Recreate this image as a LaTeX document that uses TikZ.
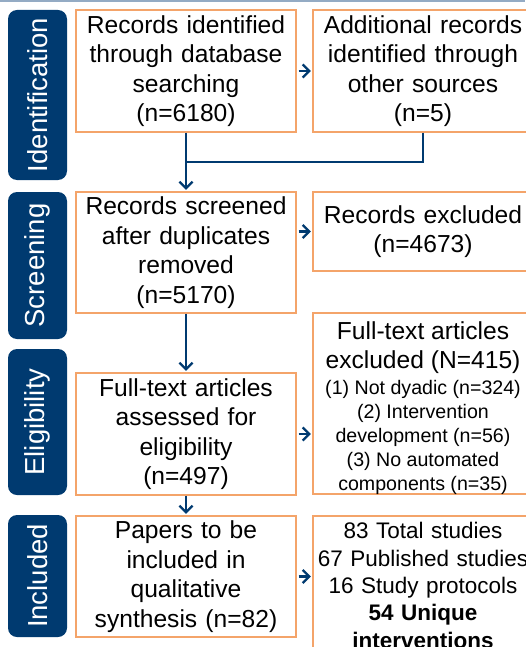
\documentclass[tikz,border=0pt]{standalone}
\usepackage{fontspec}
\setmainfont{Liberation Sans}
\usetikzlibrary{arrows.meta}
\definecolor{navy}{HTML}{003A70}
\definecolor{boxorange}{HTML}{F4A46A}
\definecolor{topline}{HTML}{94ABC4}
\begin{document}
\begin{tikzpicture}[x=1pt,y=-1pt,
  phase/.style={fill=navy, rounded corners=9pt, minimum height=59pt, text=white,
    rotate=90, font=\fontsize{27.5}{32}\selectfont, inner sep=0pt},
  box/.style={draw=boxorange, line width=1.3pt, fill=white, minimum width=220pt,
    inner sep=0pt, align=center, text width=216pt, font=\fontsize{24.6}{29.5}\selectfont},
  link/.style={draw=navy, line width=2.3pt},
  arr/.style={link, -{Straight Barb[length=6.5pt,width=13pt,line width=2.3pt]}}
]
\useasboundingbox (0,0) rectangle (525,647);
\draw[topline, line width=2pt] (0,1) -- (525,1);

% phase labels
\node[phase, minimum width=170pt] (pid) at (37.5,95) {Identification};
\node[phase, minimum width=147pt] (psc) at (37.5,265.5) {Screening};
\node[phase, minimum width=146pt] (pel) at (37.5,422) {Eligibility};
\node[phase, minimum width=122pt] (pin) at (37.5,576) {Included};

% boxes
\node[box, minimum height=122pt] (rec) at (186,71) {Records identified\\through database\\searching\\(n=6180)};
\node[box, minimum height=122pt] (add) at (423,71) {Additional records\\identified through\\other sources\\(n=5)};
\node[box, minimum height=121pt] (scr) at (186,252.5) {Records screened\\after duplicates\\removed\\(n=5170)};
\node[box, minimum height=79pt] (exc) at (423,231.5) {Records excluded\\(n=4673)};
\node[box, minimum height=122pt] (ft) at (186,434) {Full-text articles\\assessed for\\eligibility\\(n=497)};
\node[box, minimum height=181pt] (ftx) at (423,403.5) {};
\node[align=center, inner sep=0pt, font=\fontsize{24.6}{29}\selectfont] (ftxtop) at (423,347.5) {Full-text articles\\excluded (N=415)};
\node[align=center, inner sep=0pt, font=\fontsize{19.6}{24}\selectfont] (ftxlow) at (423,437) {(1) Not dyadic (n=324)\\(2) Intervention\\development (n=56)\\(3) No automated\\components (n=35)};
\node[box, minimum height=121pt] (pap) at (186,576.5) {Papers to be\\included in\\qualitative\\synthesis (n=82)};
\node[box, minimum height=139pt, font=\fontsize{22.5}{27.3}\selectfont] (fin) at (423,585.5) {83 Total studies\\67 Published studies\\16 Study protocols\\\textbf{54 Unique}\\\textbf{interventions}};

% connectors
\coordinate (join) at (186,162);
\draw[link] (add.south) -- (add.south |- join) -- (join);
\draw[arr, shorten >=1.5pt] (rec.south) -- (scr.north);
\draw[arr, shorten <=2pt, shorten >=1.5pt] (rec.east) -- (add.west);
\draw[arr, shorten <=2pt, shorten >=1.5pt] (scr.east |- exc.west) -- (exc.west);
\draw[arr, shorten >=1.5pt] (scr.south) -- (ft.north);
\draw[arr, shorten <=2pt, shorten >=1.5pt] (ft.east) -- (ft.east -| ftx.west);
\draw[arr, shorten >=1.5pt] (ft.south) -- (pap.north);
\draw[arr, shorten <=2pt, shorten >=1.5pt] (pap.east) -- (pap.east -| fin.west);
\end{tikzpicture}
\end{document}
